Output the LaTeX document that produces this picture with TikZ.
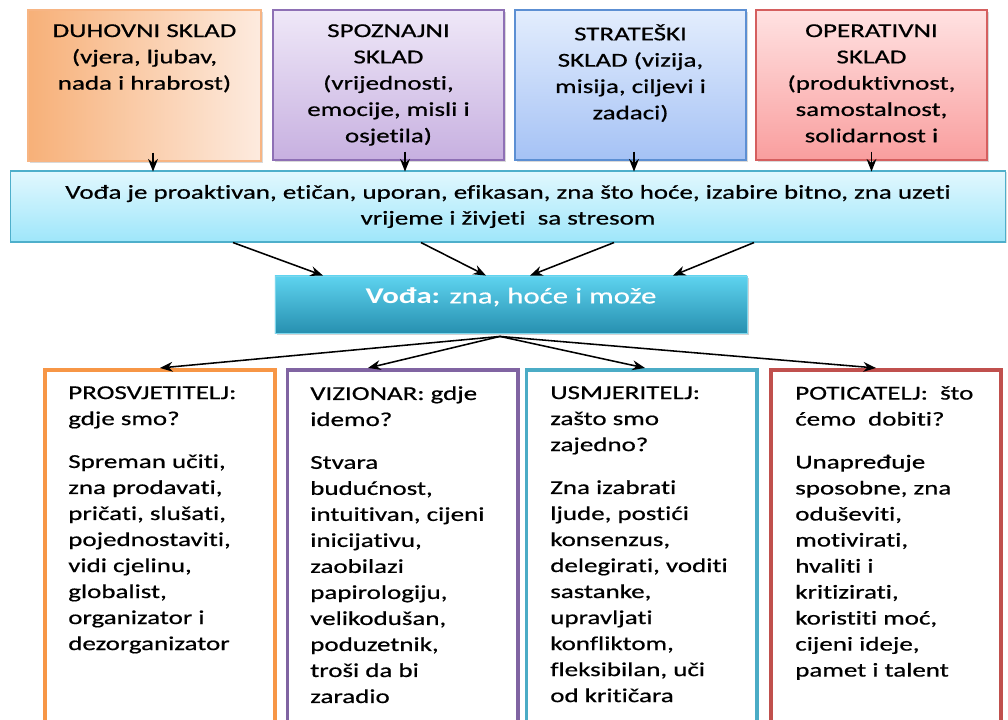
\documentclass[tikz,border=0pt]{standalone}
\usepackage{fontspec}
\setmainfont{Carlito}[FakeStretch=1.37, FakeBold=0.6, Ligatures=NoCommon,
    BoldFeatures={FakeBold=0}]
\usepackage{tikz}
\usetikzlibrary{arrows.meta, positioning, shadows}
\definecolor{duhovniA}{HTML}{F7B078}
\definecolor{duhovniB}{HTML}{FDEBDF}
\definecolor{spoznajniA}{HTML}{EFE8F8}
\definecolor{spoznajniB}{HTML}{C7B0E0}
\definecolor{spoznajniD}{HTML}{8E70B5}
\definecolor{strateskiA}{HTML}{E3EDFD}
\definecolor{strateskiB}{HTML}{A5C2F5}
\definecolor{strateskiD}{HTML}{5C8FD3}
\definecolor{operativniA}{HTML}{FFE2E2}
\definecolor{operativniB}{HTML}{F99E9E}
\definecolor{operativniD}{HTML}{D55F5F}
\definecolor{duhovniD}{HTML}{F7B584}
\definecolor{trakaA}{HTML}{E2F8FE}
\definecolor{trakaB}{HTML}{9EE6FA}
\definecolor{trakaD}{HTML}{4EAFCB}
\definecolor{vodaA}{HTML}{5ED3EF}
\definecolor{vodaB}{HTML}{2790B0}
\definecolor{vodaD}{HTML}{7DD6EC}
\definecolor{ulogaO}{HTML}{F79646}
\definecolor{ulogaP}{HTML}{8064A2}
\definecolor{ulogaT}{HTML}{4BACC6}
\definecolor{ulogaR}{HTML}{C0504D}
\tikzset{
    sklad/.style={rectangle, minimum width=5.775cm, minimum height=3.75cm, draw, line width=0.8pt,
        drop shadow={opacity=0.3, shadow xshift=1.2pt, shadow yshift=-1.2pt}},
    skladtext/.style={align=center, inner sep=0pt, anchor=north, font=\fontsize{14}{18.7}\selectfont},
    uloga/.style={rectangle, minimum width=5.75cm, minimum height=9.25cm, draw, line width=2.8pt, fill=white},
    ulogatext/.style={align=left, inner sep=0pt, anchor=north west, font=\fontsize{14}{18.5}\selectfont},
    arrow/.style={line width=1.1pt, -{Stealth[length=9pt, width=7pt]}},
}

\begin{document}
\begin{tikzpicture}[x=0.025cm, y=-0.025cm]
    \useasboundingbox (0,0) rectangle (1008,720);
    \clip (0,0) rectangle (1008,720);
    \node[sklad, draw=duhovniD, left color=duhovniA, right color=duhovniB,
        minimum width=5.825cm, minimum height=3.775cm] (b1) at (144.5,85.5) {};
    \node[sklad, draw=spoznajniD, top color=spoznajniA, bottom color=spoznajniB] (b2) at (388.5,85) {};
    \node[sklad, draw=strateskiD, top color=strateskiA, bottom color=strateskiB] (b3) at (630.5,85) {};
    \node[sklad, draw=operativniD, top color=operativniA, bottom color=operativniB] (b4) at (871.5,85) {};
    \node[skladtext] (b1t) at (144.5,24) {DUHOVNI SKLAD\\(vjera, ljubav,\\nada i hrabrost)};
    \node[skladtext] (b2t) at (388.5,24) {SPOZNAJNI\\SKLAD\\(vrijednosti,\\emocije, misli i\\osjetila)};
    \node[skladtext] (b3t) at (630.5,24) {STRATEŠKI\\SKLAD (vizija,\\misija, ciljevi i\\zadaci)};
    \node[skladtext] (b4t) at (871.5,24) {OPERATIVNI\\SKLAD\\(produktivnost,\\samostalnost,\\solidarnost i};

    \node[rectangle, draw=trakaD, line width=0.8pt, top color=trakaA, bottom color=trakaB,
        minimum width=24.85cm, minimum height=1.775cm, align=center,
        font=\fontsize{14}{18.4}\selectfont,
        drop shadow={opacity=0.25, shadow xshift=1pt, shadow yshift=-1pt}] (band) at (508,206.5)
        {Vođa je proaktivan, etičan, uporan, efikasan, zna što hoće, izabire bitno, zna uzeti\\vrijeme i živjeti~~sa stresom};

    \node[rectangle, draw=vodaD, line width=0.6pt, top color=vodaA, bottom color=vodaB,
        minimum width=11.8cm, minimum height=1.425cm, text=white, text depth=0.45cm,
        font=\fontsize{16}{19}\selectfont,
        drop shadow={opacity=0.35, shadow xshift=1.5pt, shadow yshift=-1.5pt}] (voda) at (511,304.5)
        {\textbf{Vođa:} zna, hoće i može};

    \node[uloga, draw=ulogaO] (r1) at (160,555) {};
    \node[uloga, draw=ulogaP] (r2) at (402.5,555) {};
    \node[uloga, draw=ulogaT] (r3) at (641.5,555) {};
    \node[uloga, draw=ulogaR] (r4) at (886,555) {};
    \node[ulogatext] (r1t) at (68,386) {PROSVJETITELJ:\\gdje smo?\\[12pt]
        Spreman učiti,\\zna prodavati,\\pričati, slušati,\\pojednostaviti,\\vidi cjelinu,\\globalist,\\organizator i\\dezorganizator};
    \node[ulogatext] (r2t) at (310,386) {VIZIONAR: gdje\\idemo?\\[12pt]
        Stvara\\budućnost,\\intuitivan, cijeni\\inicijativu,\\zaobilazi\\papirologiju,\\velikodušan,\\poduzetnik,\\troši da bi\\zaradio};
    \node[ulogatext] (r3t) at (550,386) {USMJERITELJ:\\zašto smo\\zajedno?\\[12pt]
        Zna izabrati\\ljude, postići\\konsenzus,\\delegirati, voditi\\sastanke,\\upravljati\\konfliktom,\\fleksibilan, uči\\od kritičara};
    \node[ulogatext] (r4t) at (795,386) {POTICATELJ:~~što\\ćemo~~dobiti?\\[12pt]
        Unapređuje\\sposobne, zna\\oduševiti,\\motivirati,\\hvaliti i\\kritizirati,\\koristiti moć,\\cijeni ideje,\\pamet i talent};

    \draw[arrow] ([shift={(8.5,-9)}]b1.south) -- ([shift={(8.5,10)}]b1.south);
    \draw[arrow] ([shift={(16.5,-9)}]b2.south) -- ([shift={(16.5,11)}]b2.south);
    \draw[arrow] ([shift={(3.5,-9)}]b3.south) -- ([shift={(3.5,11)}]b3.south);
    \draw[arrow] ([shift={(0,-9)}]b4.south) -- ([shift={(0,11)}]b4.south);

    \draw[arrow] ([shift={(-275,0)}]band.south) -- ([shift={(-188,0)}]voda.north);
    \draw[arrow] ([shift={(-87,0)}]band.south) -- ([shift={(-25,0)}]voda.north);
    \draw[arrow] ([shift={(106,0)}]band.south) -- ([shift={(19,0)}]voda.north);
    \draw[arrow] ([shift={(246,0)}]band.south) -- ([shift={(162,0)}]voda.north);

    \coordinate (hub) at ([shift={(-11,3)}]voda.south);
    \draw[arrow] (hub) -- (r1.north);
    \draw[arrow] (hub) -- ([shift={(-34.5,0)}]r2.north);
    \draw[arrow] (hub) -- ([shift={(3.5,0)}]r3.north);
    \draw[arrow] (hub) -- ([shift={(-10,0)}]r4.north);
\end{tikzpicture}
\end{document}
